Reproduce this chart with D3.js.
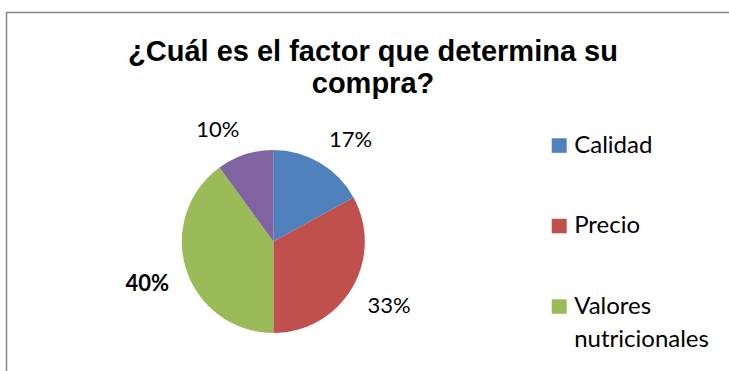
<!DOCTYPE html>
<html>
<head>
<meta charset="utf-8">
<script src="https://cdn.jsdelivr.net/npm/d3@7/dist/d3.min.js"></script>
<style>
  html, body { margin: 0; padding: 0; background: #fff; }
  svg { display: block; }
</style>
</head>
<body>
<svg id="chart" width="729" height="371"></svg>
<script>
// Survey answers: main factor behind the purchase decision
const categories = ["Calidad", "Precio", "Valores nutricionales", "Otros"];
const shares = [17, 33, 40, 10];
const sliceColors = ["#4F81BD", "#C0504D", "#9BBB59", "#8064A2"];
const legendCategories = ["Calidad", "Precio", "Valores nutricionales"];
const titleLines = ["¿Cuál es el factor que determina su", "compra?"];

const W = 729, H = 371;
const svg = d3.select("#chart");

// Chart frame (only the top and left edges fall inside the view)
svg.append("rect")
  .attr("x", 6.5).attr("y", 12.5)
  .attr("width", W + 20).attr("height", H + 20)
  .attr("fill", "#fff")
  .attr("stroke", "#868686")
  .attr("stroke-width", 1.5);

// Title
const title = svg.append("text")
  .attr("text-anchor", "middle")
  .attr("font-family", "'Liberation Sans', Arial, sans-serif")
  .attr("font-weight", "bold")
  .attr("font-size", 29)
  .attr("fill", "#000");
titleLines.forEach((line, i) => {
  title.append("tspan")
    .attr("x", 373)
    .attr("y", 61 + i * 31.7)
    .text(line);
});

// Pie
const cx = 273.3, cy = 241.5, r = 91.5;
const pie = d3.pie().sort(null).value(d => d.value);
const arcs = pie(categories.map((c, i) => ({ name: c, value: shares[i] })));
const arc = d3.arc().innerRadius(0).outerRadius(r);

const g = svg.append("g").attr("transform", `translate(${cx},${cy})`);
g.selectAll("path.slice")
  .data(arcs)
  .join("path")
  .attr("class", "slice")
  .attr("d", arc)
  .attr("fill", (d, i) => sliceColors[i]);

// Percentage labels: each label box sits outside the pie, its nearest
// corner touching a ring slightly larger than the pie along the slice's mid-angle.
const labelFont = "Lato, 'Open Sans', sans-serif";
const labelSize = 22;
const capH = labelSize * 0.72;
const ringR = r + 18;
const maxShare = d3.max(shares);

arcs.forEach((d, i) => {
  const mid = (d.startAngle + d.endAngle) / 2;
  const sx = Math.sin(mid), sy = -Math.cos(mid);
  const t = g.append("text")
    .attr("font-family", labelFont)
    .attr("font-size", labelSize)
    .attr("font-weight", shares[i] === maxShare ? "bold" : "normal")
    .attr("fill", "#000")
    .attr("text-anchor", "middle")
    .text(shares[i] + "%");
  const w = t.node().getComputedTextLength();
  const px = ringR * sx, py = ringR * sy;
  const lx = px + Math.sign(sx) * w / 2;
  const ly = py + Math.sign(sy) * capH / 2;
  t.attr("x", lx).attr("y", ly + capH / 2);
});

// Legend
const legendX = 551.7, legendTop = 138.3, legendStep = 80.5, lineH = 33.5;
const legendSize = 24;
legendCategories.forEach((name, i) => {
  const y0 = legendTop + i * legendStep;
  svg.append("rect")
    .attr("x", legendX).attr("y", y0)
    .attr("width", 15).attr("height", 14.5)
    .attr("fill", sliceColors[categories.indexOf(name)]);
  const words = name.split(" ");
  const t = svg.append("text")
    .attr("font-family", labelFont)
    .attr("font-size", legendSize)
    .attr("fill", "#000");
  words.forEach((wd, j) => {
    t.append("tspan")
      .attr("x", legendX + 22.5)
      .attr("y", y0 + 14.5 + j * lineH)
      .text(wd);
  });
});
</script>
</body>
</html>
